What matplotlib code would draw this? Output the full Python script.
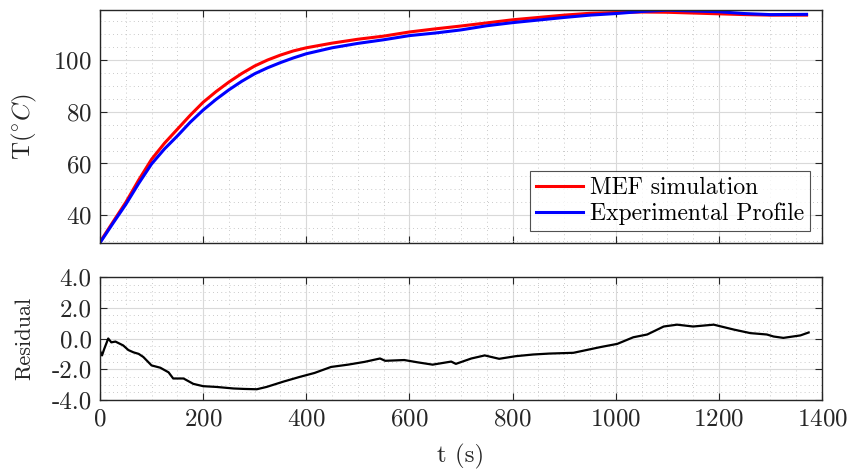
import matplotlib
matplotlib.use("Agg")
import matplotlib.pyplot as plt
from matplotlib.ticker import MultipleLocator, FormatStrFormatter

# temperature curves
t_temp = [0, 25, 50, 75, 100, 125, 150, 175, 200, 225, 250, 275, 300, 325,
          350, 375, 400, 450, 500, 550, 600, 650, 700, 750, 800, 850, 900,
          950, 1000, 1050, 1100, 1150, 1200, 1250, 1300, 1370]
T_sim = [29.7, 37.4, 45.0, 53.6, 61.6, 67.8, 73.2, 78.6, 83.6, 87.7, 91.4,
         94.7, 97.6, 99.9, 101.8, 103.4, 104.6, 106.4, 107.9, 109.1, 110.7,
         111.9, 113.0, 114.2, 115.4, 116.3, 117.2, 117.9, 118.2, 118.4, 118.3,
         118.0, 117.7, 117.4, 117.2, 117.2]
T_exp = [29.4, 36.9, 44.2, 52.3, 59.8, 65.6, 70.6, 75.9, 80.6, 84.7, 88.4,
         91.7, 94.6, 96.9, 98.9, 100.7, 102.3, 104.6, 106.3, 107.7, 109.3,
         110.3, 111.5, 113.1, 114.3, 115.3, 116.3, 117.2, 117.8, 118.6, 119.1,
         118.8, 118.5, 117.8, 117.4, 117.5]

# residual (experimental - simulation)
t_res = [0, 4, 8, 16, 22, 30, 45, 55, 65, 75, 84, 100, 117, 133, 142, 162,
         181, 200, 226, 259, 280, 304, 323, 356, 387, 416, 448, 481, 513, 543,
         553, 590, 616, 645, 681, 690, 720, 746, 774, 806, 840, 871, 918, 970,
         1003, 1034, 1061, 1093, 1119, 1150, 1190, 1229, 1261, 1293, 1306,
         1325, 1358, 1374]
res = [-0.8, -1.1, -0.7, 0.0, -0.25, -0.2, -0.45, -0.75, -0.9, -1.0, -1.2,
       -1.75, -1.9, -2.2, -2.6, -2.6, -2.95, -3.1, -3.15, -3.25, -3.28, -3.3,
       -3.15, -2.8, -2.5, -2.24, -1.85, -1.7, -1.52, -1.3, -1.45, -1.4, -1.55,
       -1.7, -1.5, -1.65, -1.3, -1.1, -1.32, -1.15, -1.04, -0.98, -0.93, -0.56,
       -0.35, 0.08, 0.26, 0.78, 0.9, 0.78, 0.9, 0.58, 0.35, 0.26, 0.13, 0.04,
       0.2, 0.39]

plt.rcParams["font.family"] = "serif"
plt.rcParams["font.serif"] = ["cmr10"]
plt.rcParams["mathtext.fontset"] = "cm"
plt.rcParams["axes.unicode_minus"] = False
plt.rcParams["axes.formatter.use_mathtext"] = True

FS = 18
dark = "0.15"


def style_axes(ax, ymajor, yminor):
    ax.set_xlim(0, 1400)
    ax.xaxis.set_major_locator(MultipleLocator(200))
    ax.xaxis.set_minor_locator(MultipleLocator(50))
    ax.yaxis.set_major_locator(MultipleLocator(ymajor))
    ax.yaxis.set_minor_locator(MultipleLocator(yminor))
    ax.grid(True, which="major", color="0.85", linewidth=0.8)
    ax.grid(True, which="minor", color="0.72", linestyle=(0, (1, 4)), linewidth=0.6)
    ax.set_axisbelow(True)
    ax.tick_params(which="both", direction="in", top=True, right=True,
                   colors=dark, labelsize=FS, labelcolor=dark)
    ax.tick_params(which="major", length=5, width=0.8, pad=6)
    ax.tick_params(which="minor", length=0)
    for s in ax.spines.values():
        s.set_color(dark)
        s.set_linewidth(1.0)


fig = plt.figure(figsize=(8.53, 4.73), dpi=100)
ax1 = fig.add_axes([0.1172, 0.486, 0.8465, 0.493])
ax2 = fig.add_axes([0.1172, 0.1543, 0.8465, 0.2601])

ax1.plot(t_temp, T_sim, color="red", linewidth=2.2, label="MEF simulation")
ax1.plot(t_temp, T_exp, color="blue", linewidth=2.2, label="Experimental Profile")
style_axes(ax1, 20, 5)
ax1.set_ylim(29.3, 119.2)
ax1.set_yticks([40, 60, 80, 100])
ax1.tick_params(labelbottom=False)
ax1.set_ylabel(r"T($^{\circ}C$)", fontsize=FS, color=dark, labelpad=10)
leg = ax1.legend(loc="lower right", fontsize=17, frameon=True, fancybox=False,
                 borderaxespad=0.5, handlelength=2.0, handletextpad=0.3,
                 labelspacing=0.15, borderpad=0.25)
leg.get_frame().set_edgecolor(dark)
leg.get_frame().set_linewidth(0.8)

ax2.plot(t_res, res, color="black", linewidth=1.6)
style_axes(ax2, 2, 0.5)
ax2.set_ylim(-4, 4)
ax2.yaxis.set_major_formatter(FormatStrFormatter("%.1f"))
ax2.set_ylabel("Residual", fontsize=16, color=dark, labelpad=12)
ax2.set_xlabel("t (s)", fontsize=FS, color=dark, labelpad=10)

fig.savefig("out.png", dpi=100)
